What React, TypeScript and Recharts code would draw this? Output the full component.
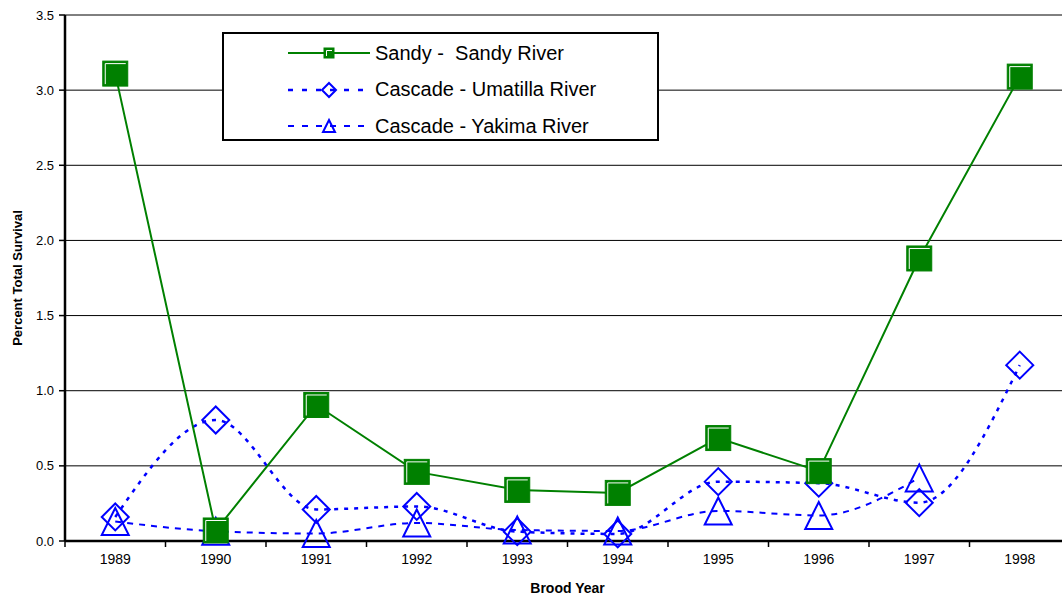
import React from 'react';
import { LineChart, Line, XAxis, YAxis, CartesianGrid, Legend } from 'recharts';

const years = [1989, 1990, 1991, 1992, 1993, 1994, 1995, 1996, 1997, 1998];
const sandy = [3.11, 0.07, 0.905, 0.46, 0.34, 0.32, 0.685, 0.465, 1.88, 3.09];
const umatilla = [0.16, 0.805, 0.21, 0.23, 0.062, 0.047, 0.395, 0.385, 0.255, 1.17];
const yakima = [0.13, 0.065, 0.05, 0.12, 0.073, 0.067, 0.2, 0.17, 0.42, null];
const yTicks = [0, 0.5, 1, 1.5, 2, 2.5, 3, 3.5];

const data = years.map((year, i) => ({
  year,
  sandy: sandy[i],
  umatilla: umatilla[i],
  yakima: yakima[i],
}));

const GREEN = '#008000';
const BLUE = '#0000FF';
const FONT = '"Liberation Sans", Arial, sans-serif';
const PLOT_W = 1005;
const HALF_BAND = PLOT_W / years.length / 2;

const Square = ({ cx, cy, s }: { cx: number; cy: number; s: number }) => (
  <g>
    <rect x={cx - s / 2} y={cy - s / 2} width={s} height={s} fill={GREEN} stroke={GREEN} strokeWidth={1} />
    <path
      d={`M${cx - s / 2 + 2.5},${cy + s / 2 - 2} L${cx - s / 2 + 2.5},${cy - s / 2 + 2.5} L${cx + s / 2 - 2},${cy - s / 2 + 2.5}`}
      stroke="#fff"
      strokeWidth={1}
      fill="none"
    />
  </g>
);

const Diamond = ({ cx, cy, s }: { cx: number; cy: number; s: number }) => (
  <polygon
    points={`${cx},${cy - s / 2} ${cx + s / 2},${cy} ${cx},${cy + s / 2} ${cx - s / 2},${cy}`}
    fill="none"
    stroke={BLUE}
    strokeWidth={2}
  />
);

const Triangle = ({ cx, cy, s }: { cx: number; cy: number; s: number }) => (
  <polygon
    points={`${cx},${cy - s / 2} ${cx + s / 2},${cy + s / 2} ${cx - s / 2},${cy + s / 2}`}
    fill="none"
    stroke={BLUE}
    strokeWidth={2}
  />
);

const dotFor = (Shape: any, s: number) => (props: any) => {
  const { cx, cy, index, value } = props;
  if (cx == null || cy == null || value == null) return <g key={index} />;
  return (
    <g key={index}>
      <Shape cx={cx} cy={cy} s={s} />
    </g>
  );
};

const legendItems = [
  { label: 'Sandy -  Sandy River', dash: undefined, width: 2, color: GREEN, Shape: Square, s: 10 },
  { label: 'Cascade - Umatilla River', dash: '5 9', width: 2.5, color: BLUE, Shape: Diamond, s: 14 },
  { label: 'Cascade - Yakima River', dash: '6 8', width: 2, color: BLUE, Shape: Triangle, s: 12 },
];

const LegendBox = () => (
  <div
    style={{
      width: 433,
      height: 105,
      border: '2px solid #000',
      background: '#fff',
      fontFamily: FONT,
      fontSize: 20,
      color: '#000',
      boxSizing: 'content-box',
    }}
  >
    {legendItems.map((it, i) => (
      <div key={i} style={{ display: 'flex', alignItems: 'center', height: 36.5, marginTop: i === 0 ? 1 : 0 }}>
        <svg width={150} height={24} style={{ flex: 'none' }}>
          <line x1={64} y1={12} x2={146} y2={12} stroke={it.color} strokeWidth={it.width} strokeDasharray={it.dash} />
          <it.Shape cx={105} cy={12} s={it.s} />
        </svg>
        <span style={{ marginLeft: 1, whiteSpace: 'pre' }}>{it.label}</span>
      </div>
    ))}
  </div>
);

const XTick = (props: any) => {
  const { x, y, payload } = props;
  return (
    <g>
      <line x1={x - HALF_BAND} y1={y} x2={x - HALF_BAND} y2={y + 6} stroke="#000" strokeWidth={1.5} />
      <text x={x} y={y + 23} textAnchor="middle" fontFamily={FONT} fontSize={14} fill="#000">
        {payload.value}
      </text>
    </g>
  );
};

const YTitle = (props: any) => {
  const { viewBox } = props;
  const cy = viewBox.y + viewBox.height / 2;
  return (
    <text
      x={22}
      y={cy}
      transform={`rotate(-90, 22, ${cy})`}
      textAnchor="middle"
      fontFamily={FONT}
      fontSize={13}
      fontWeight="bold"
      fill="#000"
    >
      Percent Total Survival
    </text>
  );
};

export default function App() {
  return (
    <div style={{ position: 'absolute', left: 0, top: 0, width: 1062, height: 597, overflow: 'hidden', background: '#fff' }}>
      <LineChart width={1080} height={597} data={data} margin={{ top: 15, right: 10, bottom: 0, left: 0 }}>
        <CartesianGrid vertical={false} stroke="#000" strokeWidth={1} />
        <XAxis
          dataKey="year"
          type="number"
          domain={[1988.5, 1998.5]}
          ticks={years}
          interval={0}
          height={56}
          tickLine={false}
          tickSize={0}
          tickMargin={0}
          tick={<XTick />}
          axisLine={{ stroke: '#000', strokeWidth: 2.5 }}
          label={{
            value: 'Brood Year',
            position: 'insideBottom',
            offset: 4,
            style: { fontFamily: FONT, fontSize: 14, fontWeight: 'bold', fill: '#000' },
          }}
        />
        <YAxis
          width={65}
          domain={[0, 3.5]}
          ticks={yTicks}
          interval={0}
          tickFormatter={(v: number) => v.toFixed(1)}
          tickSize={6}
          tickMargin={5}
          tick={{ fontFamily: FONT, fontSize: 13, fill: '#000' }}
          tickLine={{ stroke: '#000', strokeWidth: 1.5 }}
          axisLine={{ stroke: '#000', strokeWidth: 2.5 }}
          label={<YTitle />}
        />
        <Legend
          verticalAlign="middle"
          align="center"
          layout="horizontal"
          content={() => <LegendBox />}
          wrapperStyle={{ position: 'absolute', left: 222, top: 32, width: 437, height: 109 }}
        />
        <Line
          dataKey="yakima"
          name="Cascade - Yakima River"
          type="monotone"
          stroke={BLUE}
          strokeWidth={2}
          strokeDasharray="6 6"
          dot={dotFor(Triangle, 27)}
          connectNulls={false}
          isAnimationActive={false}
        />
        <Line
          dataKey="umatilla"
          name="Cascade - Umatilla River"
          type="monotone"
          stroke={BLUE}
          strokeWidth={2.5}
          strokeDasharray="4 6"
          dot={dotFor(Diamond, 27)}
          isAnimationActive={false}
        />
        <Line
          dataKey="sandy"
          name="Sandy -  Sandy River"
          type="linear"
          stroke={GREEN}
          strokeWidth={2}
          dot={dotFor(Square, 25)}
          isAnimationActive={false}
        />
      </LineChart>
    </div>
  );
}
